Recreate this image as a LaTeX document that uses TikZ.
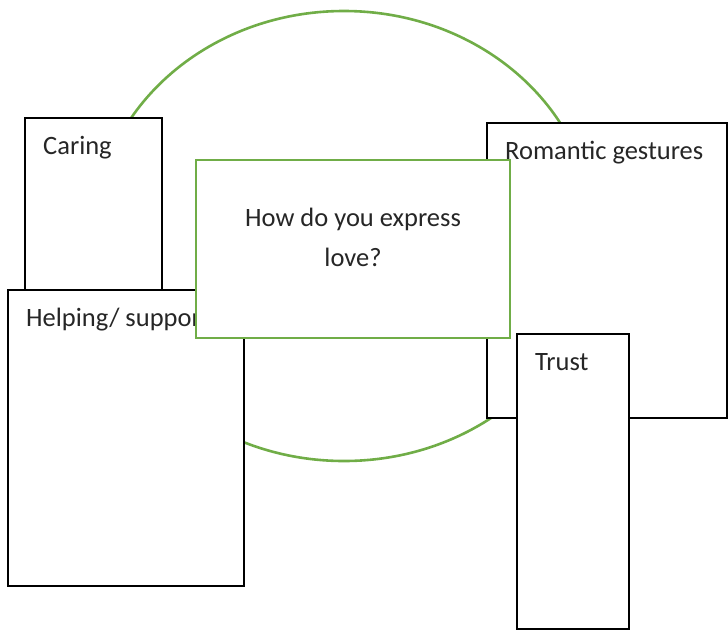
\documentclass[tikz,border=0pt]{standalone}
\usepackage{fontspec}
\setmainfont{Carlito}
\usetikzlibrary{positioning}

\definecolor{ringgreen}{HTML}{70AD47}
\definecolor{textgray}{HTML}{262626}

\tikzset{
    box/.style={draw=black, line width=1.8pt, fill=white, rectangle, inner sep=0pt, outer sep=0pt},
    questionbox/.style={draw=ringgreen, line width=1.8pt, fill=white, rectangle, inner sep=0pt, outer sep=0pt},
    lbl/.style={text=textgray, inner sep=0pt, font=\fontsize{26.5}{40}\selectfont}
}

\begin{document}
\begin{tikzpicture}[x=1pt, y=-1pt]

\useasboundingbox (0,0) rectangle (728,630);

% Draw ring behind the boxes
\draw[ringgreen, line width=2.6pt] (344,236) ellipse (250pt and 225pt);

% Draw the four answer boxes with their labels
\foreach \n/\x/\y/\w/\h/\t in {caring/25/118/137/200/Caring,
    helping/8/290/236/296/{Helping/ support},
    romantic/487/123/240/295/Romantic gestures,
    trust/517/334/112/295/Trust} {
    \node[box, minimum width=\w pt, minimum height=\h pt, anchor=north west] (\n) at (\x,\y) {};
    \node[lbl, anchor=base west] (\n-text) at ([shift={(18,36)}]\n.north west) {\t};
}

% Draw the question box on top
\node[questionbox, minimum width=314pt, minimum height=178pt, anchor=north west] (question) at (196,160) {};
\node[lbl, align=center] (question-text) at ([shift={(0,-12)}]question.center) {How do you express\\love?};

\end{tikzpicture}
\end{document}
